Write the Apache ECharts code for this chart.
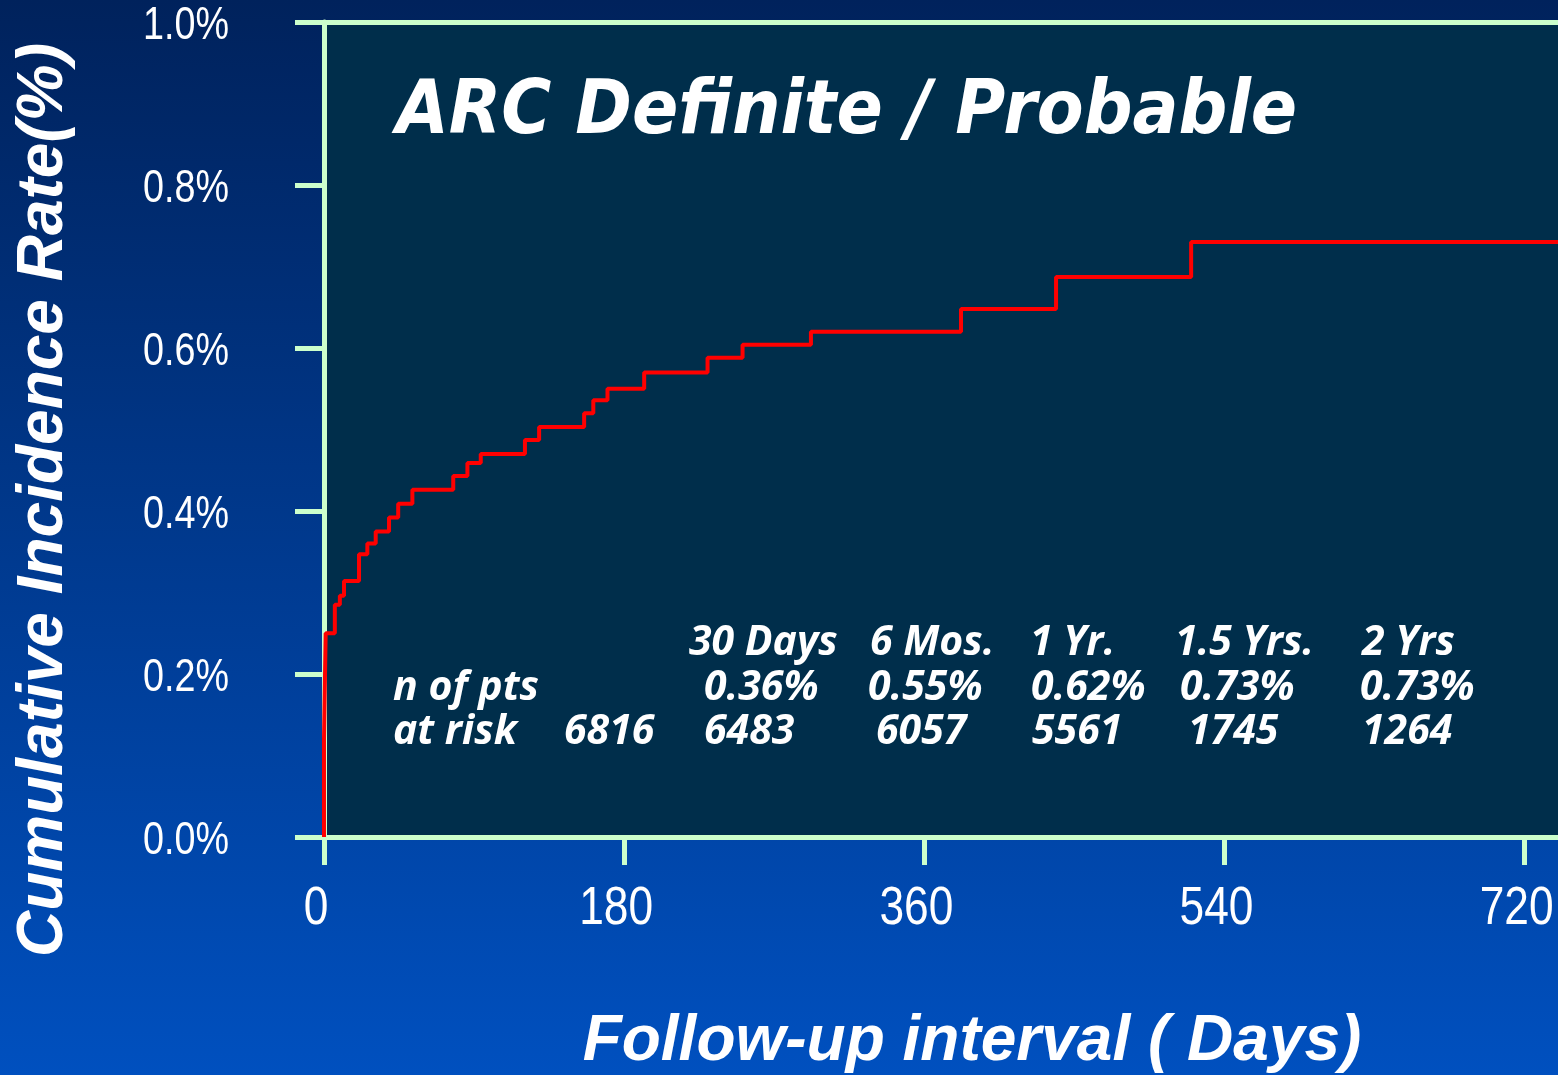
<!DOCTYPE html>
<html>
<head>
<meta charset="utf-8">
<title>ARC Definite / Probable</title>
<script src="https://cdn.jsdelivr.net/npm/echarts@6/dist/echarts.min.js"></script>
<style>
  html, body { margin: 0; padding: 0; }
  #chart { width: 1558px; height: 1075px; }
</style>
</head>
<body>
<div id="chart"></div>
<script>
// Kaplan-Meier style cumulative incidence (step function)
const eventDays  = [0, 0, 1, 6.5, 9.5, 12, 21, 26, 31, 39, 44.5, 53, 77.5, 86, 94, 120.5, 129, 156, 161.5, 170, 192, 230, 251, 292, 382, 439, 520, 740];
const eventRates = [0, 0.12, 0.25, 0.285, 0.296, 0.314, 0.347, 0.36, 0.375, 0.392, 0.409, 0.426, 0.443, 0.459, 0.47, 0.487, 0.503, 0.52, 0.536, 0.55, 0.57, 0.588, 0.604, 0.62, 0.648, 0.687, 0.73, 0.73];

// Axis ticks
const xTicks = [0, 180, 360, 540, 720];
const yTicks = [0, 0.2, 0.4, 0.6, 0.8, 1.0];

// Summary table
const milestoneLabels = ['30 Days', '6 Mos.', '1 Yr.', '1.5 Yrs.', '2 Yrs'];
const milestoneRates  = ['0.36%', '0.55%', '0.62%', '0.73%', '0.73%'];
const atRiskCounts    = ['6816', '6483', '6057', '5561', '1745', '1264'];

// Layout of the table text (left edges in px)
const headX  = [689, 870, 1030, 1175, 1362];
const rateX  = [704, 868, 1031, 1180, 1360];
const riskX  = [564, 704, 876, 1032, 1188, 1362];
const rowY   = [643, 688, 732];

const AXIS_COLOR = '#ccffcc';
const AXIS_W = 5;
const tableFont = 'italic bold 41px "Open Sans", "Noto Sans", sans-serif';
const tickFont = '"Liberation Sans", Arial, sans-serif';
const shadow = { shadowColor: '#000', shadowOffsetX: 2, shadowOffsetY: 2, shadowBlur: 1 };

const chart = echarts.init(document.getElementById('chart'));

const option = {
  animation: false,
  backgroundColor: new echarts.graphic.LinearGradient(0, 0, 0, 1, [
    { offset: 0, color: '#00225c' },
    { offset: 1, color: '#0050bf' }
  ]),
  grid: {
    left: 324, top: 22, right: 0, bottom: 238,
    show: true, backgroundColor: '#002e4b', borderWidth: 0
  },
  xAxis: [{
    type: 'value', min: 0, max: 740,
    axisLine: { show: true, onZero: false, lineStyle: { color: AXIS_COLOR, width: AXIS_W } },
    axisTick: { show: true, length: 28, customValues: xTicks, lineStyle: { color: AXIS_COLOR, width: AXIS_W } },
    axisLabel: { show: false },
    splitLine: { show: false }
  }, {
    type: 'value', min: 0, max: 740, position: 'top',
    axisLine: { show: true, onZero: false, lineStyle: { color: AXIS_COLOR, width: AXIS_W } },
    axisTick: { show: false }, axisLabel: { show: false }, splitLine: { show: false }
  }],
  yAxis: {
    type: 'value', min: 0, max: 1.0, interval: 0.2,
    axisLine: { show: true, onZero: false, lineStyle: { color: AXIS_COLOR, width: AXIS_W } },
    axisTick: { show: true, length: 29, lineStyle: { color: AXIS_COLOR, width: AXIS_W } },
    axisLabel: { show: false },
    splitLine: { show: false }
  },
  series: [{
    type: 'line', step: 'end', showSymbol: false, clip: false,
    data: eventDays.map((d, i) => [d, eventRates[i]]),
    lineStyle: { color: '#ff0000', width: 4 }, z: 3
  }]
};

chart.setOption(option);

const graphics = [];
function addText(text, x, y, extra) {
  graphics.push({
    type: 'text', x: x, y: y, silent: true, z: 10,
    style: Object.assign({ text: text, font: tableFont, fill: '#fff', textAlign: 'left', textVerticalAlign: 'middle' }, shadow, extra || {})
  });
}

// Condensed tick labels placed at the axis scale positions
yTicks.forEach(v => {
  const py = chart.convertToPixel({ yAxisIndex: 0 }, v);
  graphics.push({
    type: 'text', x: 229, y: py + 4, scaleX: 0.82, silent: true, z: 10,
    style: { text: v.toFixed(1) + '%', font: '46px ' + tickFont, fill: '#fff', textAlign: 'right', textVerticalAlign: 'middle' }
  });
});
xTicks.forEach(v => {
  const px = chart.convertToPixel({ xAxisIndex: 0 }, v);
  graphics.push({
    type: 'text', x: px - 8, y: 909, scaleX: 0.82, silent: true, z: 10,
    style: { text: String(v), font: '54px ' + tickFont, fill: '#fff', textAlign: 'center', textVerticalAlign: 'middle' }
  });
});

// Title inside the plot
graphics.push({
  type: 'text', x: 396, y: 114, scaleX: 0.91, silent: true, z: 10,
  style: {
    text: 'ARC Definite / Probable',
    font: 'oblique bold 75px "DejaVu Sans", Verdana, sans-serif',
    fill: '#fff', textAlign: 'left', textVerticalAlign: 'middle',
    shadowColor: '#000', shadowOffsetX: 3, shadowOffsetY: 3, shadowBlur: 1
  }
});

// Axis titles
graphics.push({
  type: 'text', x: 44, y: 500, rotation: Math.PI / 2, silent: true, z: 10,
  style: {
    text: 'Cumulative Incidence Rate(%)',
    font: 'italic bold 64px "Liberation Sans", Arial, sans-serif',
    fill: '#fff', textAlign: 'center', textVerticalAlign: 'middle',
    shadowColor: '#000', shadowOffsetX: 3, shadowOffsetY: 3, shadowBlur: 1
  }
});
graphics.push({
  type: 'text', x: 972, y: 1042, silent: true, z: 10,
  style: {
    text: 'Follow-up interval ( Days)',
    font: 'italic bold 64px "Liberation Sans", Arial, sans-serif',
    fill: '#fff', textAlign: 'center', textVerticalAlign: 'middle',
    shadowColor: '#000', shadowOffsetX: 3, shadowOffsetY: 3, shadowBlur: 1
  }
});

// Table rows
milestoneLabels.forEach((t, i) => addText(t, headX[i], rowY[0]));
addText('n of pts', 393, rowY[1]);
milestoneRates.forEach((t, i) => addText(t, rateX[i], rowY[1]));
addText('at risk', 393, rowY[2]);
atRiskCounts.forEach((t, i) => addText(t, riskX[i], rowY[2]));

chart.setOption({ graphic: graphics });
</script>
</body>
</html>
